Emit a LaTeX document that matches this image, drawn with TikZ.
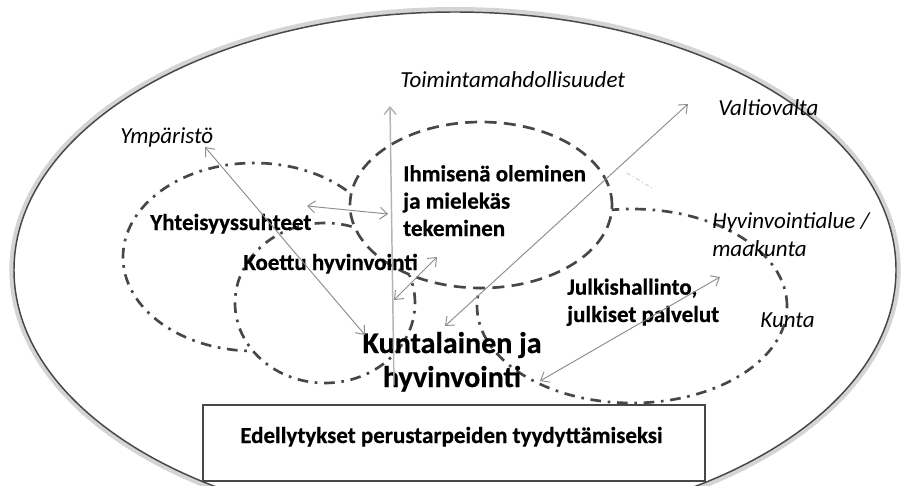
\documentclass[tikz,border=0pt]{standalone}
\usepackage{fontspec}
\setmainfont{Carlito}[BoldFeatures={FakeBold=0.6}]
\usetikzlibrary{arrows.meta}
\definecolor{linegray}{HTML}{474747}
\definecolor{arrowgray}{HTML}{8C8C8C}
\definecolor{vertgray}{HTML}{B4B4B4}
\definecolor{shadowgray}{HTML}{D4D4D4}
\definecolor{faintgray}{HTML}{C8C8C8}
\tikzset{
  dashdotline/.style={draw=linegray, fill=white, line width=2pt, dash pattern=on 8pt off 5pt on 2pt off 5pt},
  dashline/.style={draw=linegray, fill=white, line width=2pt, dash pattern=on 9pt off 5.5pt},
  tipA/.tip={Straight Barb[length=5.5pt,width=9pt]},
  conn/.style={draw=arrowgray, line width=0.7pt, tipA-tipA},
  vconn/.style={draw=vertgray, line width=1.1pt, -tipA},
  ilbl/.style={inner sep=0pt, anchor=base west, font=\fontsize{17.25}{21}\selectfont\itshape, align=left},
  blbl/.style={inner sep=0pt, anchor=base west, font=\fontsize{17.25}{20.5}\selectfont\bfseries, align=left},
  biglbl/.style={inner sep=0pt, anchor=base, font=\fontsize{22.5}{25.5}\selectfont\bfseries, align=center},
  boxstyle/.style={draw=linegray, fill=white, line width=1.6pt, minimum width=376.5pt, minimum height=57pt, inner sep=0pt},
}
\begin{document}
\begin{tikzpicture}[x=0.75pt,y=-0.75pt]
\useasboundingbox (0,0) rectangle (902,485);
% outer ellipse with soft shadow
\begin{scope}
\clip (0,0) rectangle (902,485);
\draw[shadowgray, line width=3.5pt] (455,270) ellipse [x radius=332.5pt, y radius=195.5pt];
\draw[linegray, line width=1.1pt] (455,270) ellipse [x radius=330.75pt, y radius=193.5pt];
\end{scope}
% inner regions (white-filled, later ones cover earlier ones)
\draw[dashdotline] (254,257) ellipse [x radius=98.25pt, y radius=70.5pt];
\draw[dashdotline] (325,303) ellipse [x radius=67.5pt, y radius=60pt];
\draw[dashdotline] (632,306) ellipse [x radius=116.25pt, y radius=72.75pt];
\draw[dashline] (481,205) ellipse [x radius=98.25pt, y radius=62.25pt];
\draw[faintgray, line width=0.6pt, dash pattern=on 3pt off 2pt on 1pt off 2pt] (627,173) -- (652,188);
% bottom box
\node[boxstyle] (box) at (454,443) {};
\node[blbl] (prereq) at (240,443) {Edellytykset perustarpeiden tyydyttämiseksi};
% labels (multi-line nodes: base = last line)
\node[ilbl] (toim) at (400,88) {Toimintamahdollisuudet};
\node[ilbl] (ymp) at (120,143) {Ympäristö};
\node[ilbl] (valtio) at (718,115) {Valtiovalta};
\node[ilbl] (hyv) at (712,256) {Hyvinvointialue /\\maakunta};
\node[ilbl] (kunta) at (760,327) {Kunta};
\node[blbl] (yht) at (150,230) {Yhteisyyssuhteet};
\node[blbl] (koettu) at (243,270) {Koettu hyvinvointi};
\node[blbl] (ihm) at (403,236) {Ihmisenä oleminen\\ja mielekäs\\tekeminen};
\node[blbl] (julk) at (567,322) {Julkishallinto,\\julkiset palvelut};
\node[biglbl] (kunt) at (452,387) {Kuntalainen ja\\hyvinvointi};
% connector end points
\coordinate (vA) at (394,385);
\coordinate (vB) at (390,106);
\coordinate (yA) at (205,147);
\coordinate (yB) at (365,335);
\coordinate (hA) at (307,206);
\coordinate (hB) at (388,214);
\coordinate (kA) at (394,300);
\coordinate (kB) at (437,257);
\coordinate (tA) at (445,326);
\coordinate (tB) at (688,104);
\coordinate (jA) at (540,381);
\coordinate (jB) at (720,277);
% connectors
\draw[vconn] (vA) -- (vB);
\draw[conn] (yA) -- (yB);
\draw[conn] (hA) -- (hB);
\draw[conn] (kA) -- (kB);
\draw[conn] (tA) -- (tB);
\draw[conn] (jA) -- (jB);
\end{tikzpicture}
\end{document}
